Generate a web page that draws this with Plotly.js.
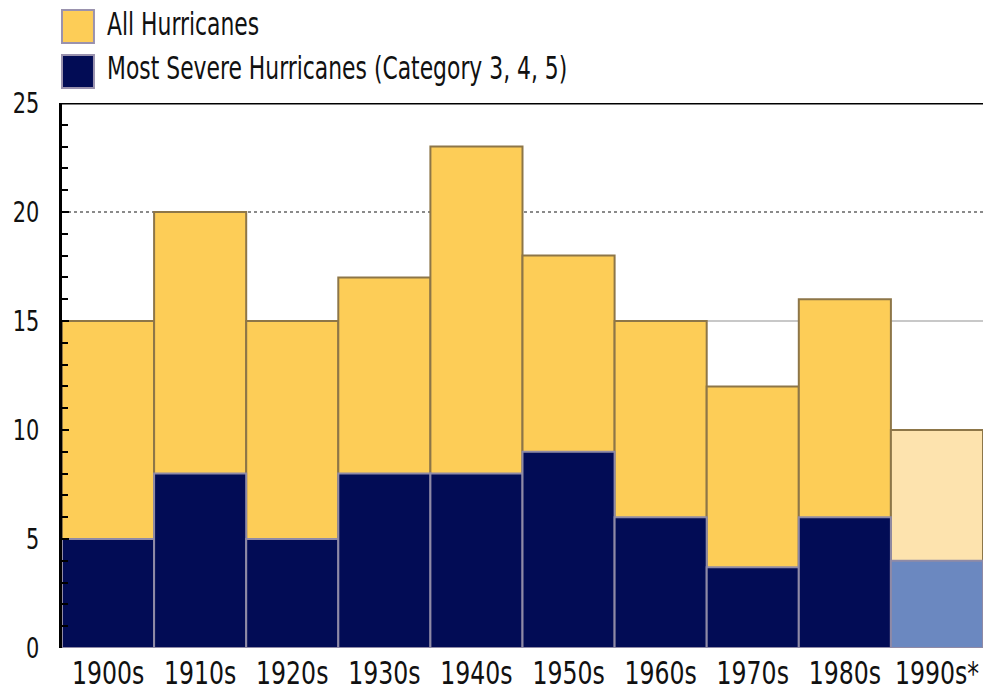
<!DOCTYPE html>
<html>
<head>
<meta charset="utf-8">
<script src="https://cdn.plot.ly/plotly-3.0.1.min.js"></script>
<style>
  html, body { margin: 0; padding: 0; background: #ffffff; }
  #chart { width: 983px; height: 691px; }
</style>
</head>
<body>
<div id="chart"></div>
<script>
// Atlantic hurricanes striking the US, counted per decade
const decades = ['1900s', '1910s', '1920s', '1930s', '1940s', '1950s', '1960s', '1970s', '1980s', '1990s*'];
const allHurricanes = [15, 20, 15, 17, 23, 18, 15, 12, 16, 10];
const severeHurricanes = [5, 8, 5, 8, 8, 9, 6, 3.7, 6, 4];

// the partial decade is shown in paler tones
const allColors = decades.map(d => d.endsWith('*') ? '#fde3ae' : '#fdcd57');
const severeColors = decades.map(d => d.endsWith('*') ? '#6b88c0' : '#020c55');

const FONT = '"DejaVu Sans Condensed", "DejaVu Sans", sans-serif';
const INK = '#111111';

const traces = [
  {
    type: 'bar',
    name: 'All Hurricanes',
    x: decades,
    y: allHurricanes,
    marker: { color: allColors, line: { color: '#8d7648', width: 2 } },
    hoverinfo: 'x+y'
  },
  {
    type: 'bar',
    name: 'Most Severe Hurricanes (Category 3, 4, 5)',
    x: decades,
    y: severeHurricanes,
    marker: { color: severeColors, line: { color: '#8f8aa6', width: 2 } },
    hoverinfo: 'x+y'
  }
];

// legend drawn as swatches plus labels above the plot
function swatch(y0, y1, fill) {
  return {
    type: 'rect', xref: 'paper', yref: 'paper',
    x0: 0, x1: 0.0347, y0: y0, y1: y1,
    fillcolor: fill, line: { color: '#9a92ae', width: 2 }
  };
}

function legendLabel(y, text) {
  return {
    xref: 'paper', yref: 'paper', x: 0.047, y: y, xanchor: 'left', yanchor: 'middle',
    text: text, showarrow: false, font: { family: FONT, size: 32, color: INK }
  };
}

const layout = {
  width: 983,
  height: 691,
  margin: { l: 62, r: 0, t: 103, b: 43, pad: 0 },
  paper_bgcolor: '#ffffff',
  plot_bgcolor: '#ffffff',
  barmode: 'overlay',
  bargap: 0,
  showlegend: false,
  font: { family: FONT, color: INK },
  xaxis: {
    type: 'category',
    range: [-0.5, 9.5],
    showgrid: false,
    showline: false,
    zeroline: false,
    ticks: '',
    tickangle: 0,
    tickfont: { family: FONT, size: 32, color: INK },
    ticklabelstandoff: 3
  },
  yaxis: {
    range: [0, 25],
    tickvals: [0, 5, 10, 15, 20, 25],
    showgrid: false,
    zeroline: false,
    showline: true,
    linecolor: '#000000',
    linewidth: 3,
    ticks: 'inside',
    ticklen: 7,
    tickwidth: 2,
    tickcolor: '#000000',
    minor: { dtick: 1, ticks: 'inside', ticklen: 6, tickwidth: 2, tickcolor: '#000000' },
    tickfont: { family: FONT, size: 29, color: INK },
    ticklabelstandoff: 14
  },
  shapes: [
    { type: 'line', xref: 'paper', yref: 'y', x0: 0, x1: 1, y0: 20, y1: 20,
      layer: 'below', line: { color: '#8a8a8a', width: 2, dash: 'dot' } },
    { type: 'line', xref: 'paper', yref: 'y', x0: 0, x1: 1, y0: 15, y1: 15,
      layer: 'below', line: { color: '#c8c8c8', width: 2 } },
    { type: 'line', xref: 'paper', yref: 'y', x0: 0, x1: 1, y0: 25, y1: 25,
      layer: 'above', line: { color: '#000000', width: 3 } },
    swatch(1.1101, 1.1706, '#fdcd57'),
    swatch(1.0275, 1.0881, '#020c55')
  ],
  annotations: [
    legendLabel(1.145, 'All Hurricanes'),
    legendLabel(1.0642, 'Most Severe Hurricanes (Category 3, 4, 5)')
  ]
};

// narrow the lettering horizontally, pinned at the given edge of each label
function squeeze(selector, factor, pin) {
  document.querySelectorAll(selector).forEach(el => {
    const b = el.getBBox();
    const px = pin === 'left' ? b.x : pin === 'right' ? b.x + b.width : b.x + b.width / 2;
    const t = el.getAttribute('transform') || '';
    el.setAttribute('transform',
      t + ' translate(' + px + ',0) scale(' + factor + ',1) translate(' + (-px) + ',0)');
  });
}

Plotly.newPlot('chart', traces, layout, { displayModeBar: false, staticPlot: true }).then(() => {
  squeeze('#chart g.xtick text', 0.82, 'center');
  squeeze('#chart g.ytick text', 0.8, 'right');
  squeeze('#chart text.annotation-text', 0.76, 'left');
});
</script>
</body>
</html>
